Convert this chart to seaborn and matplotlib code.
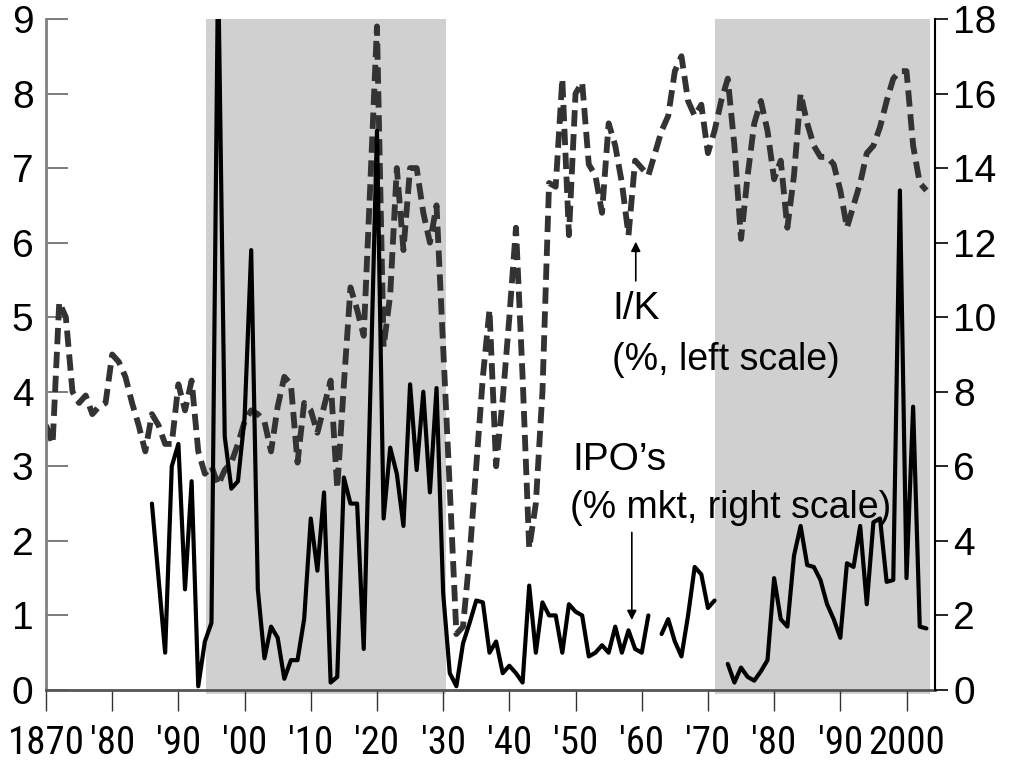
import numpy as np
import pandas as pd
import matplotlib
matplotlib.use("Agg")
import matplotlib.pyplot as plt
from matplotlib import font_manager
import seaborn as sns

# --- data ---
ik_years = list(range(1870, 2004))
ik_values = [
    3.55, 3.3, 5.2, 5.0, 4.0, 3.85, 3.95, 3.7, 3.8, 3.85,      # 1870s
    4.5, 4.4, 4.2, 3.85, 3.55, 3.2, 3.7, 3.55, 3.3, 3.3,       # 1880s
    4.1, 3.75, 4.15, 3.2, 2.9, 3.0, 2.75, 2.95, 3.05, 3.3,     # 1890s
    3.6, 3.75, 3.7, 3.6, 3.2, 3.8, 4.2, 4.1, 3.05, 3.85,       # 1900s
    3.75, 3.45, 3.8, 4.15, 2.7, 4.1, 5.4, 5.1, 4.75, 6.8,      # 1910s
    8.9, 4.6, 5.3, 7.0, 5.9, 7.0, 7.0, 6.4, 6.0, 6.5,          # 1920s
    4.6, 2.7, 0.75, 0.85, 1.8, 3.0, 4.2, 5.1, 3.0, 3.9,        # 1930s
    5.0, 6.2, 4.2, 1.9, 2.5, 4.0, 6.8, 6.75, 8.2, 6.1,         # 1940s
    8.0, 8.15, 7.05, 6.9, 6.4, 7.6, 7.3, 6.8, 6.1, 7.1,        # 1950s
    7.0, 6.9, 7.2, 7.5, 7.7, 8.3, 8.5, 7.9, 7.7, 7.85,         # 1960s
    7.2, 7.5, 7.9, 8.2, 7.3, 6.05, 6.9, 7.6, 7.9, 7.5,         # 1970s
    6.85, 7.1, 6.2, 6.9, 8.0, 7.6, 7.3, 7.15, 7.15, 7.05,      # 1980s
    6.7, 6.2, 6.5, 6.8, 7.2, 7.3, 7.55, 7.9, 8.2, 8.3,         # 1990s
    8.3, 7.3, 6.8, 6.7,                                        # 2000s
]

ipo_years = list(range(1886, 2004))
ipo_values = [
    5.0, 3.0, 1.0, 6.0,                                        # 1886-89
    6.6, 2.7, 5.6, 0.1, 1.3, 1.8, 19.5, 6.8, 5.4, 5.6,         # 1890s
    7.3, 11.8, 2.7, 0.85, 1.7, 1.4, 0.3, 0.8, 0.8, 1.9,        # 1900s
    4.6, 3.2, 5.3, 0.2, 0.35, 5.7, 5.0, 5.0, 1.1, 8.0,         # 1910s
    15.0, 4.6, 6.5, 5.8, 4.4, 8.2, 5.9, 8.0, 5.3, 8.1,         # 1920s
    2.6, 0.45, 0.1, 1.25, 1.8, 2.4, 2.35, 1.0, 1.3, 0.45,      # 1930s
    0.65, 0.45, 0.2, 2.8, 1.0, 2.35, 2.0, 2.0, 1.0, 2.3,       # 1940s
    2.1, 2.0, 0.9, 1.0, 1.2, 1.0, 1.7, 1.0, 1.6, 1.1,          # 1950s
    1.0, 2.0, np.nan, 1.5, 1.9, 1.3, 0.9, 2.0, 3.3, 3.1,       # 1960s
    2.2, 2.4, np.nan, 0.7, 0.2, 0.6, 0.35, 0.25, 0.5, 0.8,     # 1970s
    3.0, 1.9, 1.7, 3.6, 4.4, 3.35, 3.3, 2.95, 2.3, 1.9,        # 1980s
    1.4, 3.4, 3.3, 4.4, 2.3, 4.5, 4.6, 2.9, 2.95, 13.4,        # 1990s
    3.0, 7.6, 1.7, 1.65,                                       # 2000s
]

shaded_periods = [(1894.2, 1930.5), (1971.0, 2003.6)]
x_ticks = list(range(1870, 2001, 10))
x_tick_labels = ["1870", "'80", "'90", "'00", "'10", "'20", "'30",
                 "'40", "'50", "'60", "'70", "'80", "'90", "2000"]

sns.set_style("white")
plt.rcParams["font.family"] = ["Liberation Sans", "DejaVu Sans"]
plt.rcParams["text.color"] = "black"
plt.rcParams["xtick.labelcolor"] = "black"
plt.rcParams["ytick.labelcolor"] = "black"

# the original uses a narrow face for the year labels; fall back to a smaller regular one
installed = {f.name for f in font_manager.fontManager.ttflist}
narrow_font, xlabel_size, xlabel_pad = "Liberation Sans", 25, 11
for cand in ["Liberation Sans Narrow", "Arial Narrow", "Roboto Condensed"]:
    if cand in installed:
        narrow_font, xlabel_size, xlabel_pad = cand, 28, 10
        break

df_ik = pd.DataFrame({"year": ik_years, "ik": ik_values})
df_ipo = pd.DataFrame({"year": ipo_years, "ipo": ipo_values})
df_ipo["segment"] = df_ipo["ipo"].isna().cumsum()
df_ipo = df_ipo.dropna()

fig = plt.figure(figsize=(10.11, 7.68), dpi=100)
ax = fig.add_axes([0.0455, 0.1016, 0.8793, 0.8737])

for start, end in shaded_periods:
    ax.axvspan(start, end, ymin=-0.006, ymax=1, color="#d0d0d0", lw=0, zorder=0, clip_on=False)

sns.lineplot(data=df_ik, x="year", y="ik", ax=ax, color="#333333",
             linewidth=4.2, linestyle=(0, (2.8, 1.3)))

ax2 = ax.twinx()
sns.lineplot(data=df_ipo, x="year", y="ipo", units="segment", estimator=None,
             ax=ax2, color="black", linewidth=3.0)

ax.set_xlim(1870, 2004.3)
ax.set_ylim(0, 9)
ax2.set_ylim(0, 18)
ax.set_xticks(x_ticks)
ax.set_xticklabels(x_tick_labels, fontfamily=narrow_font)
ax.set_yticks(range(0, 10))
ax2.set_yticks(range(0, 19, 2))
ax.set_xlabel("")
ax.set_ylabel("")
ax2.set_ylabel("")

ax.tick_params(axis="y", direction="in", length=16, width=1.2, color="#666666",
               labelsize=28, pad=9, left=True)
ax.tick_params(axis="x", direction="out", length=15, width=1.0, color="#333333",
               labelsize=xlabel_size, pad=xlabel_pad, bottom=True)
ax2.tick_params(axis="y", direction="out", length=9, width=1.2, color="black",
                labelsize=28, pad=4, right=True)

for s in ["top", "right"]:
    ax.spines[s].set_visible(False)
for s in ["top", "left", "bottom"]:
    ax2.spines[s].set_visible(False)
ax.spines["left"].set_color("#808080")
ax.spines["left"].set_linewidth(2)
ax.spines["bottom"].set_color("#555555")
ax.spines["bottom"].set_linewidth(2)
ax2.spines["right"].set_color("black")
ax2.spines["right"].set_linewidth(1.5)

# annotations
ax.text(1955.5, 4.97, "I/K", fontsize=28, ha="left", va="baseline")
ax.text(1955.5, 4.29, "(%, left scale)", fontsize=27, ha="left", va="baseline")
ax.text(1949.5, 2.95, "IPO\u2019s", fontsize=28, ha="left", va="baseline")
ax.text(1949.2, 2.31, "(% mkt, right scale)", fontsize=27, ha="left", va="baseline")
ax.annotate("", xy=(1959.1, 6.05), xytext=(1959.1, 5.45),
            arrowprops=dict(arrowstyle="-|>", color="black", lw=1.2, mutation_scale=14))
ax.annotate("", xy=(1958.5, 0.9), xytext=(1958.5, 2.15),
            arrowprops=dict(arrowstyle="-|>", color="black", lw=1.2, mutation_scale=14))

fig.savefig("out.png", dpi=100)
